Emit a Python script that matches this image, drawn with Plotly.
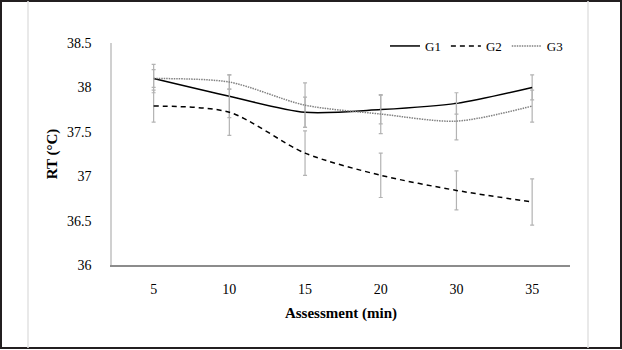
import plotly.graph_objects as go

categories = ["5", "10", "15", "20", "30", "35"]
g1 = [38.10, 37.90, 37.72, 37.75, 37.82, 38.00]
g2 = [37.79, 37.72, 37.26, 37.01, 36.84, 36.71]
g3 = [38.10, 38.06, 37.80, 37.70, 37.62, 37.79]
g1_err = [0.16, 0.24, 0.17, 0.16, 0.12, 0.14]
g2_err = [0.18, 0.26, 0.25, 0.25, 0.22, 0.26]
g3_err = [0.10, 0.08, 0.25, 0.22, 0.21, 0.18]
y_ticks = [36, 36.5, 37, 37.5, 38, 38.5]

FONT = "Liberation Serif"
W, H = 622, 350
L, R, T, B = 112, 52, 43, 85
PW = W - L - R
PH = H - T - B

def px_x(p):
    return (p - L) / PW

def px_y(p):
    return (H - B - p) / PH

fig = go.Figure()
err_style = dict(type="data", color="#b3b3b3", thickness=1.2, width=2)
series = [
    ("G1", g1, g1_err, dict(color="black", width=1.5, dash="solid")),
    ("G2", g2, g2_err, dict(color="black", width=1.5, dash="5px,4px")),
    ("G3", g3, g3_err, dict(color="#808080", width=1.5, dash="1.5px,1px")),
]
for name, vals, errs, line in series:
    fig.add_trace(go.Scatter(
        x=categories, y=vals, name=name, mode="lines",
        line=dict(shape="spline", smoothing=0.8, **line),
        error_y=dict(array=errs, **err_style),
    ))

shapes = [
    dict(type="rect", xref="paper", yref="paper",
         x0=px_x(1), x1=px_x(W - 1), y0=px_y(H - 2), y1=px_y(1),
         line=dict(color="#231f20", width=2), layer="below"),
    dict(type="line", xref="paper", yref="paper",
         x0=px_x(28), x1=px_x(28), y0=px_y(H - 2), y1=px_y(1),
         line=dict(color="#e2e2e2", width=1.5), layer="below"),
    dict(type="line", xref="paper", yref="paper",
         x0=px_x(588), x1=px_x(588), y0=px_y(H - 2), y1=px_y(1),
         line=dict(color="#e2e2e2", width=1.5), layer="below"),
]

fig.update_layout(
    width=W, height=H,
    margin=dict(l=L, r=R, t=T, b=B, pad=0),
    paper_bgcolor="white", plot_bgcolor="white",
    font=dict(family=FONT, size=14, color="black"),
    showlegend=True,
    legend=dict(orientation="h", x=px_x(568), xanchor="right", y=px_y(31), yanchor="top",
                font=dict(family=FONT, size=13), itemwidth=30,
                bgcolor="rgba(0,0,0,0)", tracegroupgap=0),
    shapes=shapes,
    xaxis=dict(
        type="category", categoryorder="array", categoryarray=categories,
        showline=True, linecolor="#8c8c8c", linewidth=1.5,
        showgrid=False, zeroline=False, ticks="", ticklabelstandoff=10,
        tickfont=dict(family=FONT, size=14),
        title=dict(text="<b>Assessment (min)</b>", font=dict(family=FONT, size=15), standoff=12),
        range=[-0.55, 5.5],
    ),
    yaxis=dict(
        range=[36, 38.5], tickvals=y_ticks, ticktext=[f"{v:g}" for v in y_ticks],
        showline=True, linecolor="#d0d0d0", linewidth=1.5,
        showgrid=False, zeroline=False, ticks="", ticklabelstandoff=16,
        tickfont=dict(family=FONT, size=14),
        title=dict(text="<b>RT (°C)</b>", font=dict(family=FONT, size=15), standoff=6),
    ),
)

fig.write_html("out.html")
